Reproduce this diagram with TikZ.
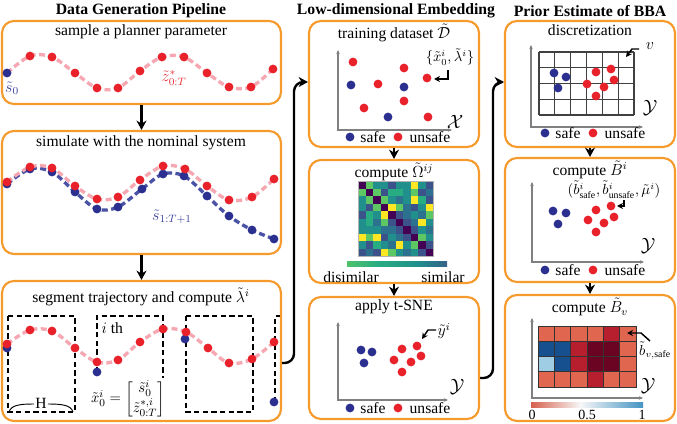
\documentclass[tikz,border=0pt]{standalone}
\usepackage{amsmath}
\usepackage{fontspec}
\setmainfont{Liberation Serif}
\usetikzlibrary{arrows.meta,fit}
\definecolor{boxorange}{HTML}{F59B2E}
\definecolor{dotred}{HTML}{E8212B}
\definecolor{dotblue}{HTML}{2B2F8F}
\definecolor{trajpink}{HTML}{F6A7B1}
\definecolor{trajblue}{HTML}{4A52A6}
\definecolor{labblue}{HTML}{3A4299}
\definecolor{labred}{HTML}{E8303A}
\definecolor{axgray}{HTML}{808080}
\definecolor{vir0}{HTML}{440154}
\definecolor{vir1}{HTML}{3B528B}
\definecolor{vir2}{HTML}{2C728E}
\definecolor{vir3}{HTML}{21908C}
\definecolor{vir4}{HTML}{27AD81}
\definecolor{vir5}{HTML}{5DC863}
\definecolor{vir6}{HTML}{FDE725}
\definecolor{rb0}{HTML}{67001F}
\definecolor{rb1}{HTML}{D6604D}
\definecolor{rb2}{HTML}{F7F7F7}
\definecolor{rb3}{HTML}{4393C3}
\definecolor{rb4}{HTML}{053061}
\definecolor{hlr}{HTML}{E06650}
\definecolor{hr}{HTML}{B71F2E}
\definecolor{hdr}{HTML}{6A0422}
\definecolor{hdb}{HTML}{17508E}
\definecolor{hlb}{HTML}{9ECDE4}
\pgfdeclarehorizontalshading{virbar}{100bp}{color(0bp)=(vir6); color(20bp)=(vir5); color(40bp)=(vir4); color(60bp)=(vir3); color(80bp)=(vir1); color(100bp)=(vir0)}
\pgfdeclarehorizontalshading{rdbubar}{100bp}{color(0bp)=(rb0); color(25bp)=(rb1); color(47bp)=(rb2); color(75bp)=(rb3); color(100bp)=(rb4)}
\begin{document}
\begin{tikzpicture}[x=0.75pt,y=-0.75pt,
  font=\fontsize{11.7}{13.5}\selectfont,
  every node/.style={inner sep=1pt},
  ttl/.style={font=\fontsize{11.8}{14}\selectfont\bfseries},
  pbox/.style={draw=boxorange, line width=1.6pt, rounded corners=9pt, inner sep=0pt, fill=white},
  arr/.style={line width=1.8pt, -{Stealth[length=7pt,width=7.5pt]}},
  link/.style={line width=1.8pt, rounded corners=7pt, -{Stealth[length=7pt,width=7.5pt]}},
  ptr/.style={line width=1.1pt, -{Stealth[length=4.5pt,width=4.5pt]}},
  axis/.style={draw=axgray, line width=0.9pt, {Stealth[length=3pt,width=2.6pt]}-{Stealth[length=3pt,width=2.6pt]}},
  pinkdash/.style={draw=trajpink, line width=2.5pt, dash pattern=on 4.5pt off 2.6pt},
  bluedash/.style={draw=trajblue, line width=2.5pt, dash pattern=on 4.5pt off 2.6pt},
  segbox/.style={draw=black, line width=0.9pt, dash pattern=on 4pt off 2.5pt},
  small/.style={font=\fontsize{10.5}{12}\selectfont}
]
\useasboundingbox (0,0) rectangle (677,424);

% titles
\node[ttl] (T1) at (141,11) {Data Generation Pipeline};
\node[ttl] (T2) at (396,11) {Low-dimensional Embedding};
\node[ttl] (T3) at (590,11) {Prior Estimate of BBA};

% boxes
\node[pbox, fit={(2,21)(281,104)}] (b1) {};
\node[pbox, fit={(2,131)(281,254)}] (b2) {};
\node[pbox, fit={(2,281)(281,421)}] (b3) {};
\node[pbox, fit={(309,21)(479,147)}] (c1) {};
\node[pbox, fit={(309,160)(479,283)}] (c2) {};
\node[pbox, fit={(309,297)(479,419)}] (c3) {};
\node[pbox, fit={(505,21)(675,147)}] (d1) {};
\node[pbox, fit={(505,158)(675,282)}] (d2) {};
\node[pbox, fit={(505,295)(675,421)}] (d3) {};

% connectors
\draw[arr] (b1.south) -- (b2.north);
\draw[arr] (b2.south) -- (b3.north);
\draw[arr] (c1.south) -- (c2.north);
\draw[arr] (c2.south) -- (c3.north);
\draw[arr] (d1.south) -- (d2.north);
\draw[arr] (d2.south) -- (d3.north);
\draw[link] (b3.east |- 0,363) -- (294,363) -- (294,82) -- (c1.west |- 0,82);
\draw[link] (c3.east |- 0,378) -- (493,378) -- (493,82) -- (d1.west |- 0,82);

% ---------- box b1
\node (b1t) at (141,32) {sample a planner parameter};
\draw[pinkdash] plot[smooth,tension=0.55] coordinates {(7,73)(30,56)(52,57)(75,73)(97,88)(118,88)(140,71)(162,57)(184,57)(207,73)(229,87)(251,87)(273,69)};
\foreach \p in {(30,56),(52,57),(75,73),(97,88),(118,88),(140,71),(162,57),(184,57),(207,73),(229,87),(251,87),(273,69)}
  \fill[dotred] \p circle (3.3pt);
\fill[dotblue] (7,73) circle (3.3pt);
\node[text=labblue] (s0) at (12,88) {$\tilde{s}_0$};
\node[text=labred] (z0T) at (174,78) {$\tilde{z}^*_{0:T}$};

% ---------- box b2
\node (b2t) at (141,143) {simulate with the nominal system};
\draw[bluedash] plot[smooth,tension=0.55] coordinates {(7,184)(30,169)(52,172)(75,192)(97,209)(118,207)(142,189)(163,174)(184,176)(207,196)(229,216)(252,230)(274,239)};
\draw[pinkdash] plot[smooth,tension=0.55] coordinates {(7,182)(30,167)(52,168)(75,186)(97,199)(118,197)(140,180)(163,166)(185,169)(207,186)(229,200)(252,197)(274,179)};
\foreach \p in {(7,184),(30,169),(52,172),(75,192),(97,209),(118,207),(142,189),(163,174),(184,176),(207,196),(229,216),(252,230),(274,239)}
  \fill[dotblue] \p circle (3.3pt);
\foreach \p in {(7,182),(30,167),(52,168),(75,186),(97,199),(118,197),(140,180),(163,166),(185,169),(207,186),(229,200),(252,197),(274,179)}
  \fill[dotred] \p circle (3.3pt);
\node[text=labblue] (s1T) at (172,217) {$\tilde{s}_{1:T+1}$};

% ---------- box b3
\node (b3t) at (141,297) {segment trajectory and compute $\tilde{\lambda}^i$};
\draw[segbox] (8,316) rectangle (75,412);
\draw[segbox] (97,372) -- (97,316) -- (163,316) -- (163,378);
\draw[segbox] (186,316) rectangle (253,412);
\draw[segbox] (275,402) -- (275,316) -- (280,316);
\draw[pinkdash] plot[smooth,tension=0.55] coordinates {(7,344)(30,330)(52,331)(75,348)(97,362)(118,360)(140,342)(163,329)(186,332)(208,348)(229,363)(252,359)(274,342)};
\foreach \p in {(7,348),(97,372),(185,339),(274,402)}
  \fill[dotblue] \p circle (3.3pt);
\foreach \p in {(7,344),(30,330),(52,331),(75,348),(97,362),(118,360),(140,342),(163,329),(186,332),(208,348),(229,363),(252,359),(274,342)}
  \fill[dotred] \p circle (3.3pt);
\node[anchor=west] (ith) at (100,328) {$i$ th};
\draw[line width=0.7pt] (9,412) .. controls (11,405) and (20,404) .. (34,404);
\node (H) at (41,403) {H};
\draw[line width=0.7pt] (48,404) .. controls (62,404) and (71,405) .. (73,412);
\node[font=\fontsize{11}{13}\selectfont] (x0i) at (128,399) {$\tilde{x}_0^i=\begin{bmatrix}\tilde{s}_0^i\\ \tilde{z}^{*,i}_{0:T}\end{bmatrix}$};

% ---------- box c1
\node (c1t) at (394,33) {training dataset $\tilde{\mathcal{D}}$};
\draw[axis] (338,50) -- (338,130) -- (452,130);
\foreach \p in {(353,62),(404,68),(427,78),(378,84),(404,101),(364,108),(428,117)}
  \fill[dotred] \p circle (3.3pt);
\foreach \p in {(351,85),(404,87),(388,117)}
  \fill[dotblue] \p circle (3.3pt);
\node[small] (xl) at (450,57) {$\{\tilde{x}^i_0,\tilde{\lambda}^i\}$};
\draw[ptr] (448,70) -- (448,79) -- (434,79);
\node[font=\fontsize{15}{16}\selectfont] (X) at (455,122) {$\mathcal{X}$};
\fill[dotblue] (350,137) circle (3.3pt);
\node (c1s) at (373,137) {safe};
\fill[dotred] (398,137) circle (3.3pt);
\node (c1u) at (430,137) {unsafe};

% ---------- box c2
\node (c2t) at (394,172) {compute $\tilde{\Omega}^{ij}$};
\foreach \row [count=\r from 0] in {{0,5,3,3,1,3,3,6,3,1},{5,0,5,1,4,4,3,5,1,2},{3,5,0,5,3,2,3,6,4,1},{3,1,5,0,6,5,2,1,3,6},{1,4,3,6,0,1,2,3,2,5},{3,4,2,5,1,0,1,2,6,3},{3,3,3,2,2,1,0,1,3,2},{6,5,6,1,3,2,1,0,5,3},{3,1,4,3,2,6,3,5,0,1},{1,2,1,6,5,3,2,3,1,0}}{
  \foreach \v [count=\c from 0] in \row {
    \fill[vir\v] ({358+7.5*\c},{181+7.5*\r}) rectangle ++(7.5,7.5);
  }
}
\draw[gray!60, line width=0.4pt] (358,181) rectangle (433,256);
\shade[shading=virbar] (347,261) rectangle (447,266);
\node (dis) at (351,277) {disimilar};
\node (sim) at (443,277) {similar};

% ---------- box c3
\node (c3t) at (394,307) {apply t-SNE};
\draw[axis] (338,322) -- (338,400) -- (448,400);
\foreach \p in {(361,350),(372,352),(364,363)}
  \fill[dotblue] \p circle (3.3pt);
\foreach \p in {(402,349),(417,346),(421,356),(394,360),(411,362),(402,372)}
  \fill[dotred] \p circle (3.3pt);
\node (yi) at (444,331) {$\tilde{y}^i$};
\draw[ptr] (436,330) -- (428,330) -- (422,339);
\node[font=\fontsize{15}{16}\selectfont] (Y1) at (457,387) {$\mathcal{Y}$};
\fill[dotblue] (350,408) circle (3.3pt);
\node (c3s) at (373,408) {safe};
\fill[dotred] (398,408) circle (3.3pt);
\node (c3u) at (430,408) {unsafe};

% ---------- box d1
\node (d1t) at (590,30) {discretization};
\draw[axis] (531,45) -- (531,127) -- (643,127);
\foreach \i in {0,...,6} \draw[black!75, line width=0.8pt] ({539+95/6*\i},52) -- ({539+95/6*\i},115);
\foreach \j in {0,...,4} \draw[black!75, line width=0.8pt] (539,{52+63/4*\j}) -- (634,{52+63/4*\j});
\foreach \p in {(554,73),(566,77),(558,88)}
  \fill[dotblue] \p circle (3.3pt);
\foreach \p in {(596,72),(611,69),(614,80),(587,84),(604,87),(596,96)}
  \fill[dotred] \p circle (3.3pt);
\node (v) at (650,46) {$v$};
\draw[ptr] (639,49) -- (632,49) -- (626,57);
\node[font=\fontsize{15}{16}\selectfont] (Y2) at (650,108) {$\mathcal{Y}$};
\fill[dotblue] (545,133) circle (3.3pt);
\node (d1s) at (568,133) {safe};
\fill[dotred] (593,133) circle (3.3pt);
\node (d1u) at (625,133) {unsafe};

% ---------- box d2
\node (d2t) at (590,170) {compute $\tilde{B}^i$};
\draw[axis] (532,182) -- (532,262) -- (644,262);
\node[small] (bl) at (614,190) {$(\tilde{b}^i_{\text{safe}},\tilde{b}^i_{\text{unsafe}},\tilde{\mu}^i)$};
\draw[ptr] (624,200) -- (624,206) -- (617,206);
\foreach \p in {(553,211),(566,213),(558,224)}
  \fill[dotblue] \p circle (3.3pt);
\foreach \p in {(596,210),(611,206),(614,217),(588,220),(604,223),(596,232)}
  \fill[dotred] \p circle (3.3pt);
\node[font=\fontsize{15}{16}\selectfont] (Y3) at (648,246) {$\mathcal{Y}$};
\fill[dotblue] (545,270) circle (3.3pt);
\node (d2s) at (568,270) {safe};
\fill[dotred] (593,270) circle (3.3pt);
\node (d2u) at (625,270) {unsafe};

% ---------- box d3
\node (d3t) at (590,307) {compute $\tilde{B}_v$};
\draw[axis] (532,318) -- (532,398) -- (643,398);
\foreach \row [count=\r from 0] in {{hlr,hlr,hlr,hlr,hr,hlr},{hdb,hdb,hr,hdr,hdr,hlr},{hlb,hdb,hr,hdr,hdr,hlr},{hlr,hlr,hlr,hr,hlr,hlr}}{
  \foreach \v [count=\c from 0] in \row {
    \filldraw[fill=\v, draw=black!80, line width=0.6pt] ({538+98/6*\c},{326+61/4*\r}) rectangle ++({98/6},{61/4});
  }
}
\node[small] (bvs) at (655,351) {$\tilde{b}_{v,\text{safe}}$};
\draw[ptr] (650,341) -- (641,333) -- (627,333);
\node[font=\fontsize{15}{16}\selectfont] (Y4) at (648,386) {$\mathcal{Y}$};
\shade[shading=rdbubar] (531,402) rectangle (643,407);
\node[small] (z0) at (532,415) {0};
\node[small] (z5) at (587,415) {0.5};
\node[small] (z1) at (642,415) {1};
\end{tikzpicture}
\end{document}
